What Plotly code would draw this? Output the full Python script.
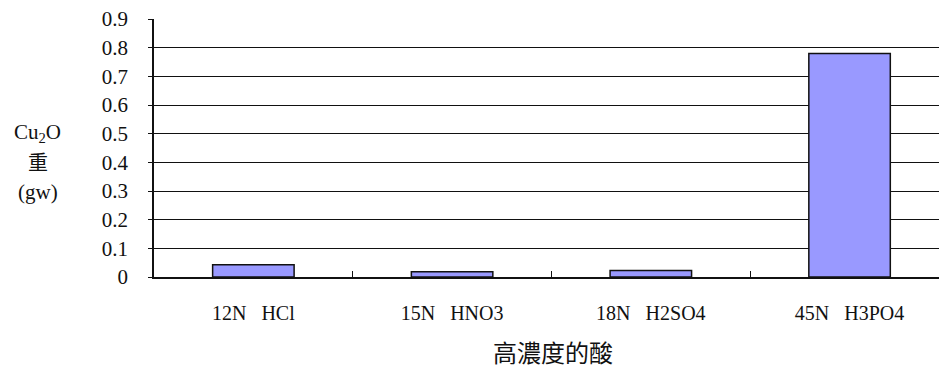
import plotly.graph_objects as go

# Cu2O weight obtained with each concentrated acid
acids = ["12N\u00a0\u00a0\u00a0HCl", "15N\u00a0\u00a0\u00a0HNO3", "18N\u00a0\u00a0\u00a0H2SO4", "45N\u00a0\u00a0\u00a0H3PO4"]
cu2o_weight = [0.043, 0.018, 0.023, 0.78]
y_ticks = [0, 0.1, 0.2, 0.3, 0.4, 0.5, 0.6, 0.7, 0.8, 0.9]
y_tick_text = ["0", "0.1", "0.2", "0.3", "0.4", "0.5", "0.6", "0.7", "0.8", "0.9"]

serif = "Liberation Serif"
cjk = "Noto Sans CJK TC"

fig = go.Figure(
    go.Bar(
        x=acids,
        y=cu2o_weight,
        width=0.41,
        marker=dict(color="#9999FF", line=dict(color="#111111", width=1.5)),
        hoverinfo="skip",
    )
)

fig.update_layout(
    width=939,
    height=370,
    margin=dict(l=154, r=0, t=19, b=93),
    paper_bgcolor="white",
    plot_bgcolor="white",
    showlegend=False,
    xaxis=dict(
        type="category",
        range=[-0.5, 3.45],
        tickson="boundaries",
        ticks="inside",
        ticklen=6,
        tickcolor="#111111",
        tickwidth=1,
        showgrid=False,
        showline=True,
        linecolor="#111111",
        linewidth=1.5,
        zeroline=False,
        tickfont=dict(family=serif, size=20, color="#111111"),
        ticklabelstandoff=17,
        fixedrange=True,
    ),
    yaxis=dict(
        range=[0, 0.9],
        tickmode="array",
        tickvals=y_ticks,
        ticktext=y_tick_text,
        ticks="outside",
        ticklen=4,
        tickcolor="#111111",
        showgrid=True,
        gridcolor="#111111",
        gridwidth=1,
        showline=True,
        linecolor="#111111",
        linewidth=1.5,
        zeroline=False,
        tickfont=dict(family=serif, size=21, color="#111111"),
        ticklabelstandoff=16,
        fixedrange=True,
    ),
)

# Vertical, stacked y-axis caption
y_caption = [("Cu<sub>2</sub>O", serif, 21, 0.56), ("重", cjk, 20, 0.446), ("(gw)", serif, 21, 0.33)]
for text, family, size, ypos in y_caption:
    fig.add_annotation(
        text=text,
        xref="paper", yref="paper",
        x=-0.148, y=ypos,
        xanchor="center", yanchor="middle",
        showarrow=False,
        font=dict(family=family, size=size, color="#111111"),
    )

# x-axis caption
fig.add_annotation(
    text="高濃度的酸",
    xref="paper", yref="paper",
    x=0.508, y=-0.29,
    xanchor="center", yanchor="middle",
    showarrow=False,
    font=dict(family=cjk, size=24, color="#111111"),
)

fig.write_html("out.html")
